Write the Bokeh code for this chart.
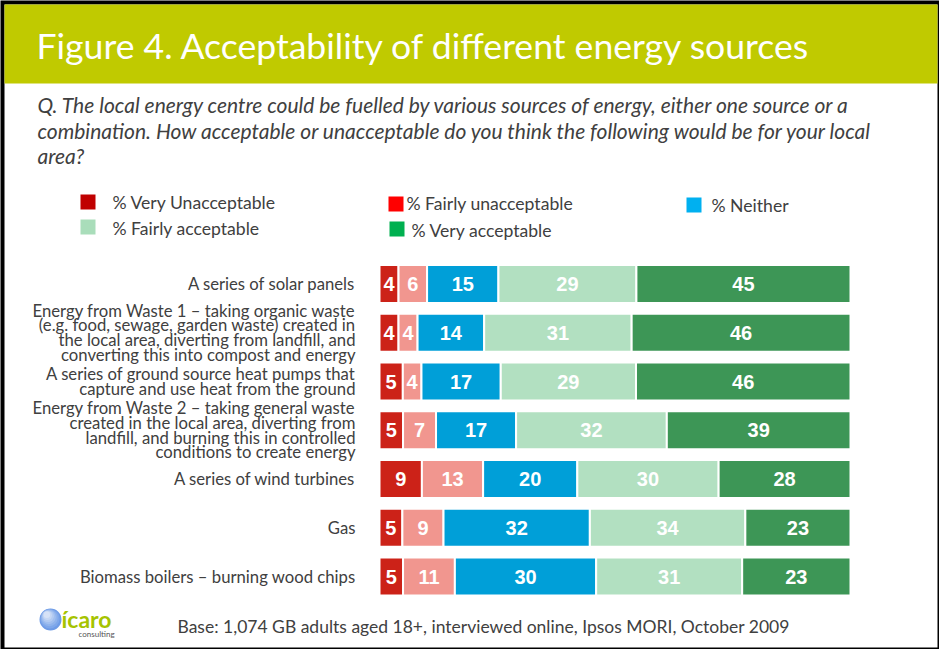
from bokeh.plotting import figure
from bokeh.models import Range1d, ColumnDataSource
from bokeh.core.properties import value
from bokeh.embed import file_html
from bokeh.resources import INLINE

# ---------------- data ----------------
categories = [
    "A series of solar panels",
    "Energy from Waste 1 \u2013 taking organic waste\n(e.g. food, sewage, garden waste) created in\nthe local area, diverting from landfill, and\nconverting this into compost and energy",
    "A series of ground source heat pumps that\ncapture and use heat from the ground",
    "Energy from Waste 2 \u2013 taking general waste\ncreated in the local area, diverting from\nlandfill, and burning this in controlled\nconditions to create energy",
    "A series of wind turbines",
    "Gas",
    "Biomass boilers \u2013 burning wood chips",
]
series_names = ["% Very Unacceptable", "% Fairly unacceptable", "% Neither",
                "% Fairly acceptable", "% Very acceptable"]
very_unacceptable = [4, 4, 5, 5, 9, 5, 5]
fairly_unacceptable = [6, 4, 4, 7, 13, 9, 11]
neither = [15, 14, 17, 17, 20, 32, 30]
fairly_acceptable = [29, 31, 29, 32, 30, 34, 31]
very_acceptable = [45, 46, 46, 39, 28, 23, 23]

title_text = "Figure 4. Acceptability of different energy sources"
question_lines = [
    "Q. The local energy centre could be fuelled by various sources of energy, either one source or a",
    "combination. How acceptable or unacceptable do you think the following would be for your local",
    "area?",
]
footer_text = "Base: 1,074 GB adults aged 18+, interviewed online, Ipsos MORI, October 2009"

# ---------------- styles ----------------
bar_colors = ["#CC2218", "#F1968F", "#009FD8", "#B2E0C1", "#3D9656"]
legend_colors = ["#C00000", "#FF0000", "#00B0F0", "#A9DDBA", "#00B050"]
# legend layout (px): square x0, y0, text x, text y
legend_layout = [(80, 194, 112, 202), (388, 196, 406, 203), (686, 197, 711, 205),
                 (80, 219, 112, 228), (389, 221, 411, 230)]
TXT = "#404040"
FONT = "Lato"

W, H = 939, 649
BAR_L, BAR_R = 379, 850          # px span of 0..100
ROW0, PITCH = 283.5, 48.75       # px center of first row, row pitch
ppu = (BAR_R - BAR_L) / 100.0

x_range = Range1d(-BAR_L / ppu, (W - BAR_L) / ppu)
y_range = Range1d((H - ROW0) / PITCH, -ROW0 / PITCH)

p = figure(width=W, height=H, x_range=x_range, y_range=y_range,
           x_axis_type=None, y_axis_type=None, toolbar_location=None,
           output_backend="svg", min_border=0, outline_line_color=None,
           background_fill_color="black", border_fill_color="black")
p.grid.visible = False
p.extra_x_ranges = {"px": Range1d(0, W)}
p.extra_y_ranges = {"px": Range1d(H, 0)}
PX = dict(x_range_name="px", y_range_name="px")

# slide background and title band
p.quad(left=[4], right=[937], top=[4], bottom=[647], fill_color="white",
       line_color=None, **PX)
p.quad(left=[4], right=[937], top=[4], bottom=[83], fill_color="#C0CA00",
       line_color=None, **PX)
p.text(x=[36], y=[45], text=[title_text], text_color="white",
       text_font=value(FONT), text_font_size="35.6px", text_baseline="middle", **PX)

for i, line in enumerate(question_lines):
    p.text(x=[37], y=[104 + 25.5 * i], text=[line], text_color=TXT,
           text_font=value(FONT), text_font_size="21px", text_font_style="italic",
           text_baseline="middle", **PX)

# legend
for name, col, (sx, sy, tx, ty) in zip(series_names, legend_colors, legend_layout):
    p.quad(left=[sx], right=[sx + 15], top=[sy], bottom=[sy + 15], fill_color=col,
           line_color=None, **PX)
    p.text(x=[tx], y=[ty], text=[name], text_color=TXT, text_font=value(FONT),
           text_font_size="17.6px", text_baseline="middle", **PX)

# bars (100% stacked)
rows = list(range(len(categories)))
all_series = [very_unacceptable, fairly_unacceptable, neither, fairly_acceptable, very_acceptable]
totals = [sum(s[i] for s in all_series) for i in rows]
left = [0.0] * len(rows)
for vals, col in zip(all_series, bar_colors):
    widths = [vals[i] / totals[i] * 100 for i in rows]
    right = [left[i] + widths[i] for i in rows]
    src = ColumnDataSource(dict(y=rows, left=left, right=right,
                                mid=[(left[i] + right[i]) / 2 for i in rows],
                                lab=[str(v) for v in vals]))
    p.hbar(y="y", left="left", right="right", height=0.78, source=src,
           fill_color=col, line_color="white", line_width=2)
    p.text(x="mid", y="y", text="lab", source=src, text_color="white",
           text_font=value("Liberation Sans"), text_font_style="bold",
           text_font_size="20px", text_align="center", text_baseline="middle")
    left = right

# category labels
p.text(x=[355] * len(rows), y=rows, text=categories, x_range_name="px",
       text_color=TXT, text_font=value(FONT), text_font_size="16.7px",
       text_align="right", text_baseline="middle", text_line_height=0.74)

# footer
p.text(x=[177], y=[626], text=[footer_text], text_color=TXT, text_font=value(FONT),
       text_font_size="17.5px", text_baseline="middle", **PX)

# logo
logo_cols = ["#6E9BE6", "#7EA7EA", "#8FB3EC", "#A1BFEF", "#B3CBF2", "#C5D7F4", "#D6E2F7"]
for k, c in enumerate(logo_cols):
    r = 11 - k * 1.3
    p.circle(x=[50 - k * 0.6], y=[619 - k * 0.8], radius=r, fill_color=c,
             line_color=None, **PX)
p.text(x=[61], y=[618], text=["\u00edcaro"], text_color="#A6C300",
       text_font=value(FONT), text_font_size="23px", text_font_style="bold",
       text_baseline="middle", **PX)
p.text(x=[78], y=[633], text=["consulting"], text_color="#555555",
       text_font=value(FONT), text_font_size="8px", text_baseline="middle", **PX)

open("out.html", "w").write(file_html(p, INLINE))
